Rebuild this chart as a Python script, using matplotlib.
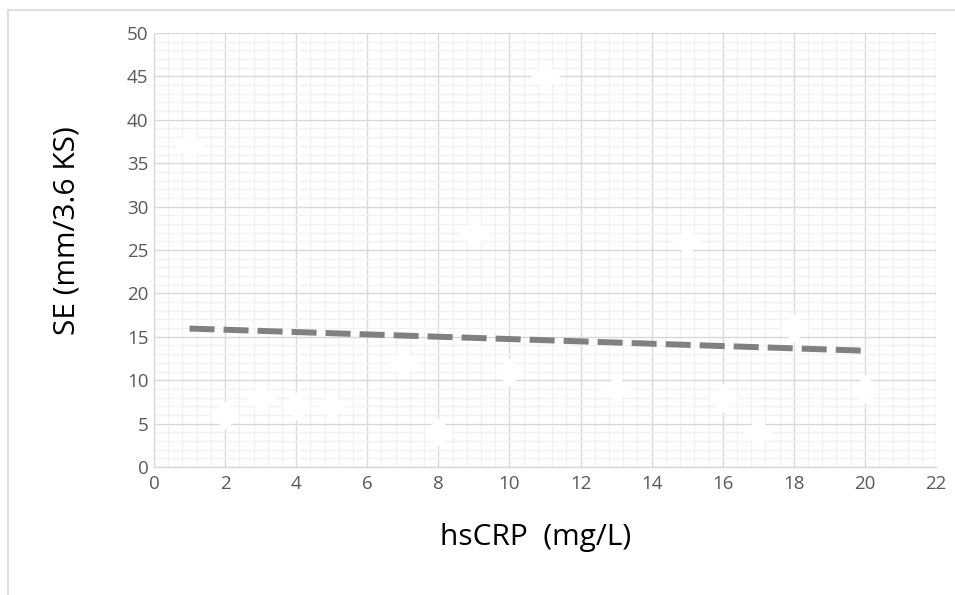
import numpy as np
import matplotlib.pyplot as plt
from matplotlib.patches import Rectangle
from matplotlib.ticker import MultipleLocator

# hsCRP vs SE data
hscrp = [1, 2, 3, 4, 5, 7, 8, 9, 10, 11, 13, 15, 16, 17, 18, 20]
se = [37, 6, 8, 7, 7, 12, 4, 27, 11, 45, 9, 26, 8, 4, 16, 9]

plt.rcParams['font.family'] = ['Open Sans', 'DejaVu Sans']

fig = plt.figure(figsize=(9.55, 5.95), dpi=100)
ax = fig.add_axes([154 / 955, 128 / 595, 782 / 955, 434 / 595])

# outer chart border (runs off the right and bottom edges)
fig.patches.append(Rectangle((8 / 955, -0.05), 1.0, 1.05 - 10 / 595, transform=fig.transFigure,
                             fill=False, edgecolor='#d9d9d9', linewidth=1.2))

ax.set_xlim(0, 22)
ax.set_ylim(0, 50)
ax.xaxis.set_major_locator(MultipleLocator(2))
ax.xaxis.set_minor_locator(MultipleLocator(0.4))
ax.yaxis.set_major_locator(MultipleLocator(5))
ax.yaxis.set_minor_locator(MultipleLocator(1))
ax.grid(which='minor', color='#f2f2f2', linewidth=1.0)
ax.grid(which='major', color='#d9d9d9', linewidth=1.0)
ax.set_axisbelow(True)

for s in ['top', 'right']:
    ax.spines[s].set_visible(False)
for s in ['left', 'bottom']:
    ax.spines[s].set_color('#d9d9d9')
    ax.spines[s].set_linewidth(1.0)

ax.tick_params(which='both', length=0, labelsize=13.5, labelcolor='#595959')
ax.tick_params(axis='x', pad=6)
ax.tick_params(axis='y', pad=4)

# scatter points (white diamonds)
ax.scatter(hscrp, se, marker='D', s=190, color='white', zorder=3)

# linear trend line
x = np.array(hscrp, dtype=float)
m, b = np.polyfit(x, np.array(se, dtype=float), 1)
xt = np.array([x.min(), x.max()])
lw = 4.3
ax.plot(xt, m * xt + b, color='#808080', linewidth=lw, linestyle=(0, (18 / lw, 6.5 / lw)),
        dash_capstyle='butt', zorder=4)

ax.set_xlabel('hsCRP  (mg/L)', fontsize=21.5, color='black')
ax.set_ylabel('SE (mm/3.6 KS)', fontsize=21.5, color='black')
ax.xaxis.set_label_coords(0.488, -0.128)
ax.yaxis.set_label_coords(-0.093, 0.544)

fig.savefig('out.png', dpi=100)
